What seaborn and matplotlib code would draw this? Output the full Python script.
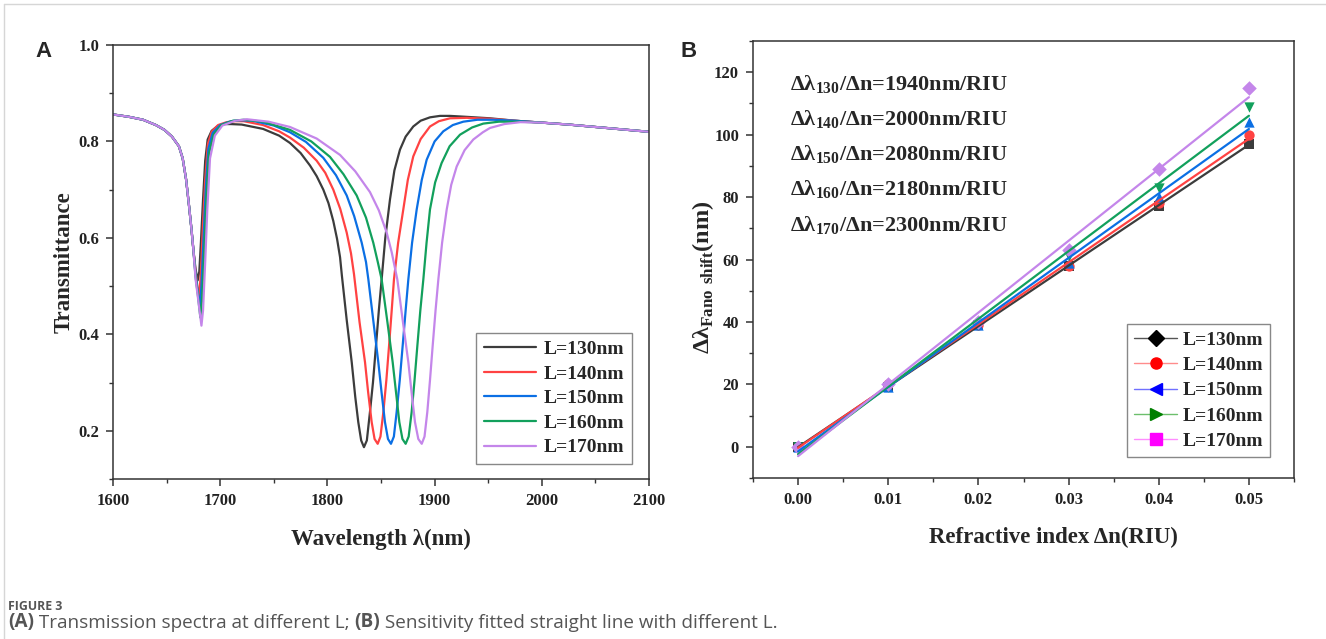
import matplotlib
matplotlib.use("Agg")
import matplotlib.pyplot as plt
from matplotlib.lines import Line2D
from matplotlib.ticker import MultipleLocator, FormatStrFormatter
import seaborn as sns
import pandas as pd

# ---------------- data: panel A (transmission spectra) ----------------
wl_start = [1600, 1615, 1628, 1640, 1648, 1655, 1661.5, 1665, 1668.2, 1671, 1673.2, 1675]
tr_start = [0.856, 0.851, 0.845, 0.834, 0.824, 0.810, 0.790, 0.765, 0.721, 0.665, 0.618, 0.575]
wl_end = [2000, 2025, 2050, 2075, 2100]
tr_end = [0.839, 0.835, 0.830, 0.825, 0.820]

wl_130 = [1677, 1679, 1680.5, 1682, 1684, 1686, 1688.3, 1692, 1697, 1704, 1710,
          1720, 1740, 1755, 1765, 1775, 1783.8, 1790, 1796.2, 1801, 1805.5, 1809, 1811.8,
          1813.5, 1818, 1822.7, 1826, 1828.8, 1831.5, 1834.1, 1836.8, 1839.7, 1842.5,
          1845.3, 1848, 1850.6, 1854, 1858.4, 1862.5, 1867.7, 1873, 1880.1, 1887,
          1895.7, 1905, 1914.4, 1930, 1951.7, 1975]
tr_130 = [0.535, 0.512, 0.53, 0.59, 0.68, 0.76, 0.804, 0.822, 0.831, 0.836, 0.836,
          0.835, 0.826, 0.812, 0.797, 0.776, 0.750, 0.728, 0.700, 0.672, 0.635, 0.598, 0.560,
          0.522, 0.43, 0.342, 0.27, 0.218, 0.18, 0.166, 0.18, 0.239, 0.30,
          0.376, 0.45, 0.514, 0.60, 0.680, 0.74, 0.783, 0.81, 0.831, 0.843,
          0.850, 0.853, 0.853, 0.851, 0.848, 0.843]

wl_140 = [1677, 1679, 1680.5, 1682, 1684, 1686, 1688.5, 1692, 1698, 1706, 1714,
          1722, 1740, 1755, 1765.1, 1778, 1790, 1798, 1805.5, 1812, 1818, 1822,
          1824.8, 1830, 1835.1, 1838, 1841.3, 1844, 1846.9, 1849.5, 1852.2, 1855,
          1857.5, 1860, 1862.1, 1866, 1870.8, 1875, 1880.1, 1887, 1895.7, 1904,
          1914.4, 1930, 1951.7, 1975]
tr_140 = [0.53, 0.495, 0.48, 0.53, 0.63, 0.72, 0.795, 0.82, 0.834, 0.840, 0.842,
          0.842, 0.834, 0.821, 0.808, 0.787, 0.760, 0.735, 0.700, 0.660, 0.611, 0.568,
          0.525, 0.425, 0.342, 0.28, 0.218, 0.183, 0.173, 0.188, 0.239, 0.305,
          0.376, 0.45, 0.514, 0.59, 0.659, 0.72, 0.769, 0.805, 0.831, 0.842,
          0.848, 0.849, 0.847, 0.843]

wl_150 = [1677, 1679, 1681, 1682.5, 1684.5, 1686.5, 1689, 1693, 1700, 1710, 1718,
          1730, 1750, 1765.1, 1780, 1796.2, 1808, 1818, 1825, 1832, 1836,
          1838.2, 1843, 1847.5, 1850.5, 1853.7, 1856.5, 1859.3, 1862, 1864.6, 1867.5,
          1870.2, 1873, 1875.5, 1879, 1883.3, 1888, 1892.6, 1900, 1908.1, 1917,
          1926.8, 1940, 1955, 1975]
tr_150 = [0.525, 0.49, 0.455, 0.5, 0.6, 0.70, 0.785, 0.818, 0.834, 0.842, 0.844,
          0.843, 0.833, 0.819, 0.799, 0.766, 0.730, 0.688, 0.645, 0.590, 0.55,
          0.514, 0.425, 0.342, 0.28, 0.218, 0.183, 0.173, 0.188, 0.239, 0.305,
          0.376, 0.45, 0.514, 0.59, 0.659, 0.72, 0.762, 0.800, 0.821, 0.834,
          0.841, 0.845, 0.845, 0.843]

wl_160 = [1677, 1679, 1681.5, 1683, 1685, 1687, 1689.5, 1694, 1701, 1712, 1722,
          1740, 1765.1, 1785, 1802.4, 1815, 1827.3, 1836, 1842.8, 1847,
          1850.6, 1856, 1860.9, 1864, 1867.1, 1870, 1873, 1875.8, 1878.6, 1881.3,
          1883.9, 1886.7, 1889.5, 1892.5, 1895.7, 1900.5, 1906.5, 1914, 1923.7,
          1935, 1945.4, 1960, 1980]
tr_160 = [0.52, 0.485, 0.435, 0.47, 0.57, 0.68, 0.775, 0.815, 0.834, 0.843, 0.845,
          0.841, 0.824, 0.800, 0.768, 0.732, 0.688, 0.642, 0.590, 0.55,
          0.514, 0.425, 0.342, 0.28, 0.218, 0.183, 0.173, 0.188, 0.239, 0.305,
          0.376, 0.45, 0.514, 0.59, 0.659, 0.715, 0.755, 0.790, 0.814,
          0.829, 0.837, 0.841, 0.841]

wl_170 = [1677, 1679, 1682.5, 1684, 1686, 1688, 1690.5, 1695, 1702, 1714, 1725,
          1745, 1765.1, 1790, 1811.8, 1826, 1839.7, 1848, 1855.3, 1860,
          1865.2, 1870.5, 1875.5, 1878.5, 1881.7, 1884.8, 1888, 1890.6, 1893.2, 1895.7,
          1898.2, 1900.9, 1903.5, 1907, 1911.3, 1915.5, 1920.6, 1928, 1936.1,
          1945, 1951.7, 1965, 1980]
tr_170 = [0.515, 0.48, 0.418, 0.45, 0.55, 0.66, 0.765, 0.812, 0.833, 0.843, 0.846,
          0.841, 0.830, 0.806, 0.772, 0.738, 0.695, 0.657, 0.611, 0.57,
          0.514, 0.425, 0.342, 0.28, 0.218, 0.183, 0.173, 0.188, 0.239, 0.305,
          0.376, 0.45, 0.514, 0.59, 0.659, 0.71, 0.748, 0.782, 0.804,
          0.819, 0.828, 0.836, 0.840]

# ---------------- data: panel B (Fano shift vs. refractive index change) ----------------
delta_n = [0.00, 0.01, 0.02, 0.03, 0.04, 0.05]
shift_130 = [0, 19, 39, 58, 77, 97]
shift_140 = [0, 20, 39, 58, 78, 100]
shift_150 = [0, 19, 39, 59, 80, 104]
shift_160 = [0, 19, 39, 61, 83, 109]
shift_170 = [0, 20, 40, 63, 89, 115]
sensitivity = [1940, 2000, 2080, 2180, 2300]

labels = ["L=130nm", "L=140nm", "L=150nm", "L=160nm", "L=170nm"]
line_colors = ["#3c3c3c", "#ff4242", "#0b6fe4", "#12a05c", "#c486ea"]
point_markers = ["s", "o", "^", "v", "D"]

spectra = [(wl_130, tr_130), (wl_140, tr_140), (wl_150, tr_150),
           (wl_160, tr_160), (wl_170, tr_170)]
shifts = [shift_130, shift_140, shift_150, shift_160, shift_170]

# ---------------- style ----------------
sns.set_style("ticks")
plt.rcParams["font.family"] = ["Liberation Serif", "DejaVu Serif"]
plt.rcParams["font.weight"] = "bold"
plt.rcParams["axes.labelweight"] = "bold"
plt.rcParams["axes.edgecolor"] = "#333333"
plt.rcParams["axes.linewidth"] = 1.1
plt.rcParams["xtick.color"] = "#333333"
plt.rcParams["ytick.color"] = "#333333"
plt.rcParams["xtick.labelcolor"] = "#222222"
plt.rcParams["ytick.labelcolor"] = "#222222"
plt.rcParams["xtick.direction"] = "out"
plt.rcParams["ytick.direction"] = "out"

W, H = 1326, 639
fig = plt.figure(figsize=(W / 100, H / 100), dpi=100)
axA = fig.add_axes([113 / W, 1 - 479 / H, 536 / W, 434 / H])
axB = fig.add_axes([753 / W, 1 - 478 / H, 541 / W, 437 / H])

# ---------------- panel A ----------------
for (wl, tr), lab, col in zip(spectra, labels, line_colors):
    df = pd.DataFrame({"wl": wl_start + wl + wl_end, "tr": tr_start + tr + tr_end})
    sns.lineplot(data=df, x="wl", y="tr", ax=axA, color=col, lw=1.6,
                 label=lab, sort=False, estimator=None)

axA.set_xlim(1600, 2100)
axA.set_ylim(0.1, 1.0)
axA.xaxis.set_major_locator(MultipleLocator(100))
axA.xaxis.set_minor_locator(MultipleLocator(50))
axA.yaxis.set_major_locator(MultipleLocator(0.2))
axA.yaxis.set_minor_locator(MultipleLocator(0.1))
axA.yaxis.set_major_formatter(FormatStrFormatter("%.1f"))
axA.set_xlabel("Wavelength λ(nm)", fontsize=16.5, labelpad=14)
axA.set_ylabel("Transmittance", fontsize=16.5, labelpad=2.5)
legA = axA.legend(loc="lower right", bbox_to_anchor=(0.968, 0.035), borderaxespad=0,
                  fancybox=False, edgecolor="#888888", framealpha=1,
                  prop={"family": "Liberation Serif", "weight": "bold", "size": 14},
                  handlelength=2.7, labelspacing=0.36, handletextpad=0.4,
                  borderpad=0.38)
legA.get_frame().set_linewidth(1.0)

# ---------------- panel B ----------------
for ys, col, mk in zip(shifts, line_colors, point_markers):
    sns.regplot(x=delta_n, y=ys, ax=axB, ci=None, color=col, marker=mk,
                scatter_kws={"s": 55, "alpha": 1, "linewidths": 0},
                line_kws={"lw": 1.6})

axB.set_xlim(-0.005, 0.055)
axB.set_ylim(-10, 130)
axB.xaxis.set_major_locator(MultipleLocator(0.01))
axB.xaxis.set_minor_locator(MultipleLocator(0.005))
axB.xaxis.set_major_formatter(FormatStrFormatter("%.2f"))
axB.yaxis.set_major_locator(MultipleLocator(20))
axB.yaxis.set_minor_locator(MultipleLocator(10))
axB.set_xlabel("Refractive index Δn(RIU)", fontsize=16.5, labelpad=14)
axB.xaxis.label.set_x(0.555)
axB.set_ylabel(r"Δλ$_{\mathregular{Fano\ shift}}$(nm)", fontsize=17.5, labelpad=-1)
axB.yaxis.label.set_y(0.46)

text_y = [0.900, 0.819, 0.739, 0.659, 0.577]
for lab, s, ty in zip(labels, sensitivity, text_y):
    size = lab[2:5]
    axB.text(0.068, ty, r"Δλ$_{\mathregular{%s}}$/Δn=%dnm/RIU" % (size, s),
             transform=axB.transAxes, fontsize=16, va="center", ha="left")

leg_line = ["#555555", "#ff8c8c", "#7070ff", "#6cbf6c", "#ff8cff"]
leg_mark = ["#000000", "#ff0000", "#0000ff", "#008000", "#ff00ff"]
leg_shape = ["D", "o", "<", ">", "s"]
handles = [Line2D([], [], color=lc, lw=1.0, marker=m, markersize=8,
                  markerfacecolor=mc, markeredgecolor=mc)
           for lc, mc, m in zip(leg_line, leg_mark, leg_shape)]
legB = axB.legend(handles, labels, loc="lower right", bbox_to_anchor=(0.956, 0.048),
                  borderaxespad=0, fancybox=False, edgecolor="#888888", framealpha=1,
                  prop={"family": "Liberation Serif", "weight": "bold", "size": 14},
                  handlelength=2.2, labelspacing=0.4, handletextpad=0.3,
                  borderpad=0.35)
legB.get_frame().set_linewidth(1.0)

for ax in (axA, axB):
    for sp in ax.spines.values():
        sp.set_visible(True)
    ax.tick_params(which="major", length=5, width=1.1, labelsize=12, pad=5)
    ax.tick_params(which="minor", length=3, width=1.0)
    ax.tick_params(top=False, right=False, which="both")
    for t in ax.get_xticklabels() + ax.get_yticklabels():
        t.set_fontweight("bold")

# panel letters
fig.text(35 / W, 1 - 57 / H, "A", family="Liberation Sans", weight="bold", fontsize=16)
fig.text(681 / W, 1 - 57 / H, "B", family="Liberation Sans", weight="bold", fontsize=16)

# page frame lines
fig.add_artist(Line2D([4 / W, 1], [1 - 4 / H, 1 - 4 / H], color="#d6d6d6", lw=1))
fig.add_artist(Line2D([4 / W, 4 / W], [0, 1 - 4 / H], color="#d6d6d6", lw=1))

# caption
cap = {"family": ["Open Sans", "DejaVu Sans"], "color": "#555555"}
fig.text(8 / W, 1 - 610 / H, "FIGURE 3", fontsize=8.8, **cap)
t1 = fig.text(8 / W, 1 - 632 / H, "(A)", fontsize=13.6, weight="bold", va="bottom", **cap)
t2 = axA.annotate(" Transmission spectra at different L; ", xy=(1, 0), xycoords=t1,
                  va="bottom", ha="left", fontsize=13.6, weight="normal",
                  annotation_clip=False, **cap)
t3 = axA.annotate("(B)", xy=(1, 0), xycoords=t2, va="bottom", ha="left",
                  fontsize=13.6, weight="bold", annotation_clip=False, **cap)
axA.annotate(" Sensitivity fitted straight line with different L.", xy=(1, 0),
             xycoords=t3, va="bottom", ha="left", fontsize=13.6, weight="normal",
             annotation_clip=False, **cap)

fig.savefig("out.png", dpi=100)
